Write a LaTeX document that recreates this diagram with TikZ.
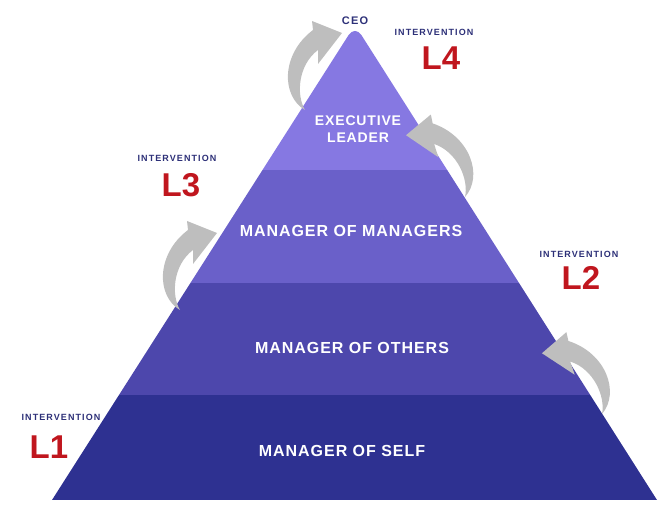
\documentclass[tikz,border=0pt]{standalone}
\usepackage{fontspec}
\setmainfont{Liberation Sans}
\newfontfamily\tierfont[LetterSpace=6]{Liberation Sans}
\newfontfamily\widefont[LetterSpace=12]{Liberation Sans}
\usepackage{tikz}
\usetikzlibrary{calc}
\usepackage{xcolor}
\definecolor{tiertop}{RGB}{134,120,226}
\definecolor{tiermm}{RGB}{106,96,201}
\definecolor{tiermo}{RGB}{77,71,172}
\definecolor{tierms}{RGB}{46,49,145}
\definecolor{navytext}{RGB}{45,48,120}
\definecolor{levelred}{RGB}{192,22,30}
\definecolor{arrowgray}{RGB}{190,190,190}
\tikzset{
    bendarrow/.pic={
        \fill[arrowgray] (0,0) .. controls (-24,14) and (-24,56) .. (8,80) -- (7,89) -- (37,77)
            -- (13,46) -- (13,60) .. controls (-7,45) and (-9,15) .. cycle;
    }
}

\begin{document}
\begin{tikzpicture}[x=1pt, y=1pt,
    tier/.style={text=white, align=center, inner sep=0pt,
                 font=\tierfont\bfseries\fontsize{16}{18}\selectfont},
    intv/.style={text=navytext, inner sep=0pt,
                 font=\widefont\bfseries\fontsize{9}{10}\selectfont},
    lvl/.style={text=levelred, inner sep=0pt,
                font=\bfseries\fontsize{33}{36}\selectfont}
]
    \useasboundingbox (0,0) rectangle (670,507);
    \coordinate (apex) at (355,482);
    \coordinate (bl) at (52,7);
    \coordinate (br) at (657,7);

    % pyramid bands
    \begin{scope}
        \clip[rounded corners=12pt] ($(apex)!1.2!(bl)$) -- (apex) -- ($(apex)!1.2!(br)$) -- cycle;
        \fill[tierms] (0,7) rectangle (670,112);
        \fill[tiermo] (0,112) rectangle (670,224);
        \fill[tiermm] (0,224) rectangle (670,337);
        \fill[tiertop] (0,337) rectangle (670,500);
    \end{scope}

    % curved arrows
    \pic at (305,397) {bendarrow};
    \pic at (180,197) {bendarrow};
    \pic[rotate=18, xscale=-1] at (465,310) {bendarrow};
    \pic[rotate=19, xscale=-1] at (602,93) {bendarrow};

    % tier labels
    \node[tier, font=\tierfont\bfseries\fontsize{14}{16.5}\selectfont] (exec) at (358,378) {EXECUTIVE\\LEADER};
    \node[tier] (mom) at (351,276) {MANAGER OF MANAGERS};
    \node[tier] (mot) at (352,159) {MANAGER OF OTHERS};
    \node[tier] (mos) at (342,56) {MANAGER OF SELF};
    \node[intv, font=\widefont\bfseries\fontsize{11}{12}\selectfont] (ceo) at (355,486) {CEO};

    % interventions
    \node[intv] (int4) at (434,475) {INTERVENTION};
    \node[lvl] (lv4) at (441,449) {L4};
    \node[intv] (int3) at (177,349) {INTERVENTION};
    \node[lvl] (lv3) at (181,322) {L3};
    \node[intv] (int2) at (579,253) {INTERVENTION};
    \node[lvl] (lv2) at (581,229) {L2};
    \node[intv] (int1) at (61,90) {INTERVENTION};
    \node[lvl] (lv1) at (49,60) {L1};
\end{tikzpicture}
\end{document}
